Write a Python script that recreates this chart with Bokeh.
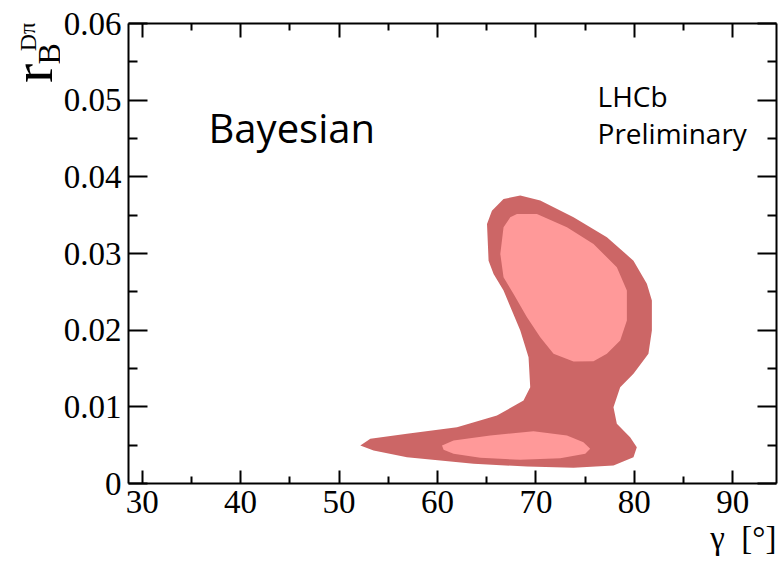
from bokeh.plotting import figure
from bokeh.layouts import row
from bokeh.models import Range1d, FixedTicker, LinearAxis, Label, Title
from bokeh.embed import file_html
from bokeh.resources import INLINE

# 95% credible region (outer) in the (gamma, r_B^{D pi}) plane
outer_gamma = [66.71, 68.41, 70.44, 73.82, 77.21, 79.91, 81.27, 81.78, 81.78, 81.43,
               79.91, 78.56, 77.88, 78.22, 79.57, 80.25, 79.91, 77.88, 73.82, 69.09,
               63.67, 56.90, 53.51, 52.16, 53.18, 56.90, 61.98, 66.04, 68.74, 69.42,
               69.25, 68.41, 66.71, 65.70, 65.19, 65.03, 65.53]
outer_rb = [0.03712, 0.03755, 0.03690, 0.03472, 0.03211, 0.02907, 0.02604, 0.02386, 0.01995, 0.01691,
            0.01430, 0.01256, 0.00995, 0.00778, 0.00604, 0.00473, 0.00343, 0.00235, 0.00205, 0.00222,
            0.00257, 0.00343, 0.00430, 0.00495, 0.00583, 0.00648, 0.00734, 0.00887, 0.01082, 0.01256,
            0.01647, 0.01995, 0.02516, 0.02734, 0.02907, 0.03386, 0.03559]

# 68% credible regions (inner): upper island and lower island
inner_top_gamma = [68.07, 70.10, 73.15, 75.85, 78.22, 79.24, 79.24, 78.56, 77.21, 75.85,
                   73.82, 71.79, 70.44, 69.09, 67.73, 66.71, 66.38, 66.71, 67.39]
inner_top_rb = [0.03516, 0.03516, 0.03342, 0.03125, 0.02820, 0.02516, 0.02125, 0.01864, 0.01691, 0.01595,
                0.01591, 0.01691, 0.01907, 0.02168, 0.02473, 0.02690, 0.02995, 0.03342, 0.03472]

inner_low_gamma = [60.46, 61.63, 65.36, 69.76, 73.15, 74.83, 75.51, 75.01, 72.47, 68.41,
                   64.35, 61.63, 60.62]
inner_low_rb = [0.00495, 0.00561, 0.00626, 0.00682, 0.00626, 0.00538, 0.00452, 0.00387, 0.00330, 0.00309,
                0.00335, 0.00387, 0.00439]

# axis ticks and their labels
x_ticks = [30, 40, 50, 60, 70, 80, 90]
x_tick_labels = ["30", "40", "50", "60", "70", "80", "90"]
x_minor_ticks = [35, 45, 55, 65, 75, 85]
y_ticks = [0, 0.01, 0.02, 0.03, 0.04, 0.05, 0.06]
y_tick_labels = ["0", "0.01", "0.02", "0.03", "0.04", "0.05", "0.06"]
y_minor_ticks = [0.005, 0.015, 0.025, 0.035, 0.045, 0.055]

OUTER_COLOR = "#CC6666"
INNER_COLOR = "#FF9999"
SERIF = "Liberation Serif"
SANS = "Open Sans"

# ---- narrow strip holding the rotated y-axis title r_B^{D pi} ----
TITLE_W, H = 60, 563
t = figure(width=TITLE_W, height=H, output_backend="svg", toolbar_location=None,
           x_range=Range1d(0, TITLE_W), y_range=Range1d(0, H),
           min_border=0, x_axis_type=None, y_axis_type=None)
t.outline_line_color = None
t.xgrid.visible = False
t.ygrid.visible = False
t.background_fill_color = "white"
t.border_fill_color = "white"
# (text, centre x, centre distance from top, size): main symbol, subscript, superscript
for txt, cx, cy, size in [("r", 32, 61, "58px"), ("B", 48, 37, "32px"), ("Dπ", 27, 16, "24px")]:
    t.add_layout(Label(x=cx, y=H - cy, text=txt, angle=1.5708, text_font=SERIF,
                       text_font_size=size, text_baseline="middle", text_align="center",
                       text_color="black"))

# ---- main plot ----
p = figure(width=778 - TITLE_W, height=H, output_backend="svg", toolbar_location=None,
           x_range=Range1d(28.61, 94.44), y_range=Range1d(0, 0.06),
           min_border_left=128 - TITLE_W, min_border_right=2, min_border_top=23,
           min_border_bottom=80, x_axis_type=None, y_axis_type=None)
p.background_fill_color = "white"
p.border_fill_color = "white"
p.outline_line_color = None
p.xgrid.visible = False
p.ygrid.visible = False

p.patch(outer_gamma, outer_rb, fill_color=OUTER_COLOR, line_color=None)
p.patch(inner_top_gamma, inner_top_rb, fill_color=INNER_COLOR, line_color=None)
p.patch(inner_low_gamma, inner_low_rb, fill_color=INNER_COLOR, line_color=None)

xt = FixedTicker(ticks=x_ticks, minor_ticks=x_minor_ticks)
yt = FixedTicker(ticks=y_ticks, minor_ticks=y_minor_ticks)


def style(ax, major, minor):
    ax.axis_line_width = 2
    ax.axis_line_color = "black"
    ax.major_tick_in = major
    ax.major_tick_out = 0
    ax.minor_tick_in = minor
    ax.minor_tick_out = 0
    ax.major_tick_line_width = 2
    ax.minor_tick_line_width = 2
    ax.major_tick_line_color = "black"
    ax.minor_tick_line_color = "black"
    ax.major_label_text_font = SERIF
    ax.major_label_text_font_size = "33px"
    ax.major_label_text_color = "black"


xb = LinearAxis(ticker=xt, major_label_overrides=dict(zip(x_ticks, x_tick_labels)))
style(xb, 13, 7)
xb.major_label_standoff = 7
p.add_layout(xb, "below")

yl = LinearAxis(ticker=yt, major_label_overrides=dict(zip(y_ticks, y_tick_labels)))
style(yl, 19, 9)
yl.major_label_standoff = 7
p.add_layout(yl, "left")

# mirrored tick marks on the top and right edges of the frame, no labels
xa = LinearAxis(ticker=xt, major_label_overrides={v: "" for v in x_ticks})
style(xa, 14, 7)
xa.major_label_text_font_size = "6px"
xa.major_label_standoff = 0
p.add_layout(xa, "above")

yr = LinearAxis(ticker=yt, major_label_overrides={v: "" for v in y_ticks})
style(yr, 19, 9)
yr.major_label_text_font_size = "1px"
yr.major_label_standoff = 0
p.add_layout(yr, "right")

# x-axis title, right-aligned under the axis
p.add_layout(Title(text="γ\u00a0\u00a0[°]", align="right", text_font=SERIF, text_font_size="33px",
                   text_font_style="normal", text_color="black", standoff=4, offset=0),
             "below")

# text inside the frame
p.add_layout(Label(x=36.74, y=0.04647, text="Bayesian", text_font=SANS,
                   text_font_size="40px", text_baseline="alphabetic", text_color="black"))
p.add_layout(Label(x=76.26, y=0.05057, text="LHCb", text_font=SANS,
                   text_font_size="28px", text_baseline="alphabetic", text_color="black"))
p.add_layout(Label(x=76.26, y=0.04569, text="Preliminary", text_font=SANS,
                   text_font_size="28px", text_baseline="alphabetic", text_color="black"))

layout = row(t, p)
open("out.html", "w").write(file_html(layout, INLINE))
